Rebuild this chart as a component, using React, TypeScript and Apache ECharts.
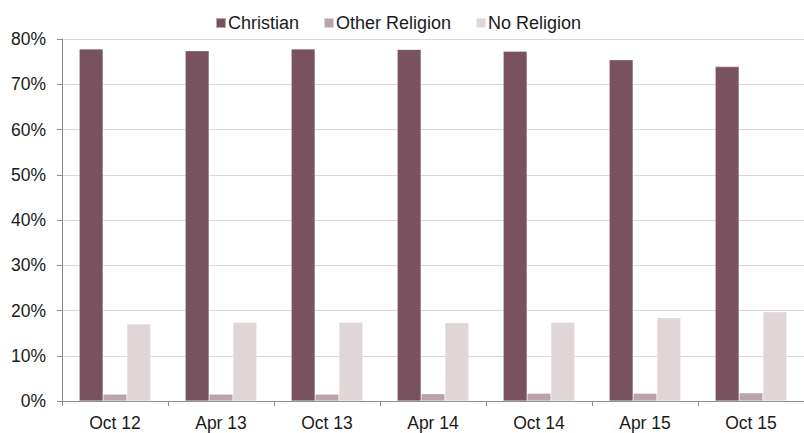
import React, { useEffect, useRef } from "react";
import * as echarts from "echarts";

const categories = ["Oct 12", "Apr 13", "Oct 13", "Apr 14", "Oct 14", "Apr 15", "Oct 15"];
const christian = [77.8, 77.4, 77.8, 77.7, 77.3, 75.4, 73.9];
const otherReligion = [1.5, 1.5, 1.5, 1.6, 1.7, 1.7, 1.8];
const noReligion = [17.0, 17.4, 17.4, 17.3, 17.4, 18.4, 19.7];
const yTicks = [0, 10, 20, 30, 40, 50, 60, 70, 80];

export default function App() {
  const ref = useRef<HTMLDivElement>(null);
  useEffect(() => {
    const chart = echarts.init(ref.current!, undefined, { renderer: "svg" });
    const font = "'Liberation Sans', Arial, sans-serif";
    const fs = 17.5;
    const mk = (name: string, data: number[], color: string) => ({
      name,
      type: "bar",
      data,
      barGap: "0%",
      barCategoryGap: "32.5%",
      itemStyle: { color, borderColor: "rgba(255,255,255,0.5)", borderWidth: 0.5 },
    });
    chart.setOption({
      animation: false,
      textStyle: { fontFamily: font },
      legend: {
        top: 9,
        left: 210,
        itemWidth: 10,
        itemHeight: 10,
        itemGap: 24,
        icon: "rect",
        textStyle: { fontSize: 18, color: "#1a1a1a", fontFamily: font, padding: [0, 0, 0, -3] },
        data: ["Christian", "Other Religion", "No Religion"],
      },
      grid: { left: 62, top: 39, width: 748, height: 362, containLabel: false },
      xAxis: {
        type: "category",
        data: categories,
        axisLine: { lineStyle: { color: "#8c8c8c", width: 1 } },
        axisTick: { show: true, length: 5, alignWithLabel: false, lineStyle: { color: "#8c8c8c" } },
        axisLabel: { fontSize: fs, color: "#1a1a1a", margin: 13, fontFamily: font },
      },
      yAxis: {
        type: "value",
        min: 0,
        max: 80,
        interval: 10,
        axisLine: { show: true, lineStyle: { color: "#8c8c8c", width: 1 } },
        axisTick: { show: true, length: 5, lineStyle: { color: "#8c8c8c" } },
        splitLine: { lineStyle: { color: "#d9d9d9", width: 1 } },
        axisLabel: {
          fontSize: fs,
          color: "#1a1a1a",
          margin: 16,
          fontFamily: font,
          formatter: (v: number) => (yTicks.includes(v) ? `${v}%` : ""),
        },
      },
      series: [
        mk("Christian", christian, "#79525F"),
        mk("Other Religion", otherReligion, "#BCA3AA"),
        mk("No Religion", noReligion, "#E0D6D8"),
      ],
    });
    return () => chart.dispose();
  }, []);
  return <div ref={ref} style={{ width: 804, height: 433, position: "absolute", left: 0, top: 0 }} />;
}
